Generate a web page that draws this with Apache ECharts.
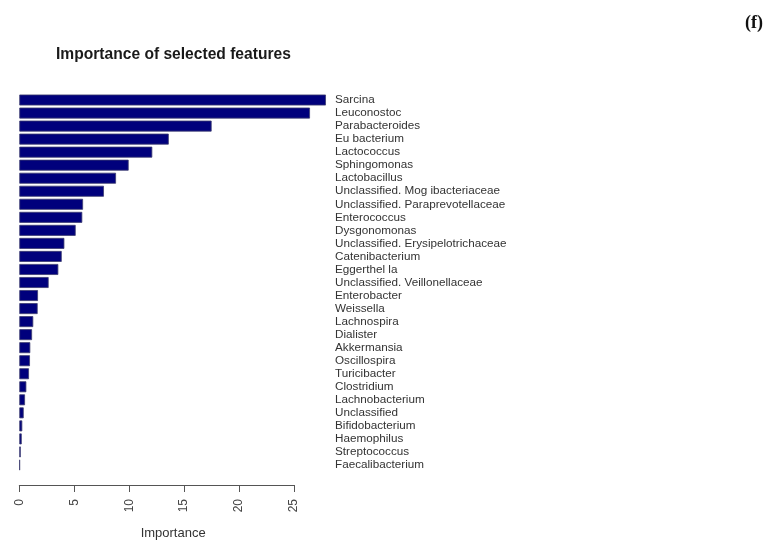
<!DOCTYPE html>
<html><head><meta charset="utf-8">
<script src="https://cdn.jsdelivr.net/npm/echarts@6/dist/echarts.min.js"></script>
<style>html,body{margin:0;padding:0;background:#fff}#c{width:773px;height:550px}</style>
</head><body><div id="c"></div>
<script>
const categories = ["Sarcina","Leuconostoc","Parabacteroides","Eu bacterium","Lactococcus","Sphingomonas","Lactobacillus","Unclassified. Mog ibacteriaceae","Unclassified. Paraprevotellaceae","Enterococcus","Dysgonomonas","Unclassified. Erysipelotrichaceae","Catenibacterium","Eggerthel la","Unclassified. Veillonellaceae","Enterobacter","Weissella","Lachnospira","Dialister","Akkermansia","Oscillospira","Turicibacter","Clostridium","Lachnobacterium","Unclassified","Bifidobacterium","Haemophilus","Streptococcus","Faecalibacterium"];
const importance = [27.9,26.45,17.5,13.6,12.1,9.95,8.8,7.7,5.8,5.73,5.13,4.1,3.86,3.55,2.67,1.70,1.67,1.27,1.16,1.0,0.97,0.88,0.64,0.52,0.4,0.27,0.22,0.13,0.06];
const tickValues = [0,5,10,15,20,25];

const pxPerUnit = 10.99;
const left0 = 19.3;
const barMax = 28;
const chart = echarts.init(document.getElementById('c'));
chart.setOption({
  animation:false,
  title:[
    {text:'Importance of selected features',left:51,top:42,textStyle:{fontFamily:'Liberation Sans',fontWeight:'bold',fontSize:15.6,color:'#1a1a1a'}},
    {text:'(f)',left:740,top:9,textStyle:{fontFamily:'Liberation Serif',fontWeight:'bold',fontSize:18,color:'#111'}}
  ],
  grid:[
    {left:left0,top:93.5,width:barMax*pxPerUnit,height:378},
    {left:left0,top:475,width:25*pxPerUnit,height:10}
  ],
  xAxis:[
    {gridIndex:0,type:'value',min:0,max:barMax,axisLine:{show:false},axisTick:{show:false},axisLabel:{show:false},splitLine:{show:false},
     name:'Importance',nameLocation:'middle',nameGap:55,nameTextStyle:{fontFamily:'Liberation Sans',fontSize:13,color:'#333'}},
    {gridIndex:1,type:'value',min:0,max:25,interval:5,position:'bottom',
     axisLine:{show:true,lineStyle:{color:'#555',width:1}},axisTick:{show:true,length:7,lineStyle:{color:'#555'}},
     axisLabel:{rotate:90,margin:14,fontFamily:'Liberation Sans',fontSize:12,color:'#444',
       formatter:v=>tickValues.includes(v)?String(v):''},splitLine:{show:false}}
  ],
  yAxis:[
    {gridIndex:0,type:'category',data:categories,inverse:true,position:'right',
     axisLine:{show:false},axisTick:{show:false},
     axisLabel:{interval:0,margin:8,align:'left',fontFamily:'Liberation Sans',fontSize:11.7,color:'#333'}},
    {gridIndex:1,type:'value',show:false}
  ],
  series:[{type:'bar',xAxisIndex:0,yAxisIndex:0,data:importance,barCategoryGap:'16%',
    itemStyle:{color:'#00007c',borderColor:'#3c3c70',borderWidth:0.8}}]
});
</script></body></html>
